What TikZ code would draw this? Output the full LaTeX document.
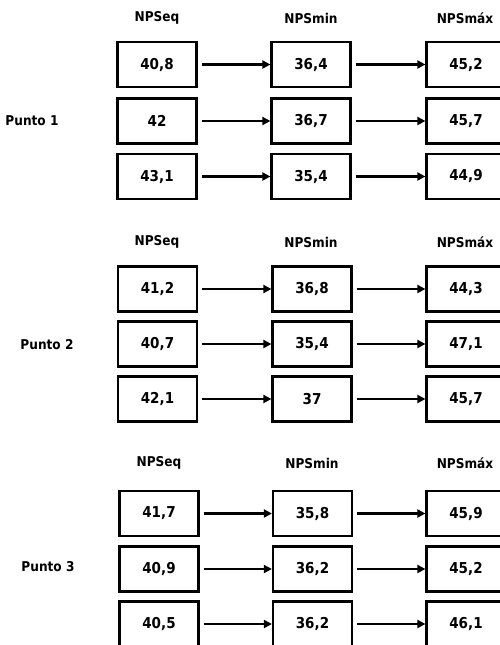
\documentclass[tikz,border=0pt]{standalone}
\usepackage{fontspec}
\setmainfont{DejaVu Sans Condensed}
\usetikzlibrary{arrows.meta}
\begin{document}
\begin{tikzpicture}[x=1pt,y=-1pt,
  valbox/.style={draw=black,line width=2.2pt,minimum width=79pt,minimum height=45pt,inner sep=0pt,font=\fontsize{15}{17}\selectfont\bfseries},
  hdr/.style={font=\fontsize{13.5}{15}\selectfont\bfseries,inner sep=0pt},
  punto/.style={font=\fontsize{13.5}{15}\selectfont\bfseries,inner sep=0pt},
  conn/.style={line width=2.3pt,-{Triangle[length=8pt,width=8pt]},shorten <=4pt}]
\useasboundingbox (0,0) rectangle (500,645);
\clip (0,0) rectangle (500,645);
% group 1
\node[hdr] (h1a) at (157,18) {NPSeq};
\node[hdr] (h1b) at (311,18) {NPSmin};
\node[hdr] (h1c) at (465,18) {NPSmáx};
\node[punto] (p1) at (32,121) {Punto 1};
\node[valbox] (a11) at (157,64.5) {40,8};
\node[valbox] (b11) at (311,64.5) {36,4};
\node[valbox] (c11) at (466,64.5) {45,2};
\node[valbox] (a12) at (157,121) {42};
\node[valbox] (b12) at (311,121) {36,7};
\node[valbox] (c12) at (466,121) {45,7};
\node[valbox] (a13) at (157,176.5) {43,1};
\node[valbox] (b13) at (311,176.5) {35,4};
\node[valbox] (c13) at (466,176.5) {44,9};
% group 2
\node[hdr] (h2a) at (157,242) {NPSeq};
\node[hdr] (h2b) at (311,242) {NPSmin};
\node[hdr] (h2c) at (465,242) {NPSmáx};
\node[punto] (p2) at (47,345) {Punto 2};
\node[valbox] (a21) at (157.5,289) {41,2};
\node[valbox] (b21) at (312,289) {36,8};
\node[valbox] (c21) at (466,289) {44,3};
\node[valbox] (a22) at (157.5,344) {40,7};
\node[valbox] (b22) at (312,344) {35,4};
\node[valbox] (c22) at (466,344) {47,1};
\node[valbox] (a23) at (157.5,399) {42,1};
\node[valbox] (b23) at (312,399) {37};
\node[valbox] (c23) at (466,399) {45,7};
% group 3
\node[hdr] (h3a) at (159,463) {NPSeq};
\node[hdr] (h3b) at (312,463) {NPSmin};
\node[hdr] (h3c) at (465,463) {NPSmáx};
\node[punto] (p3) at (48,567) {Punto 3};
\node[valbox] (a31) at (159,513.5) {41,7};
\node[valbox] (b31) at (312.5,513.5) {35,8};
\node[valbox] (c31) at (466,513.5) {45,9};
\node[valbox] (a32) at (159,569) {40,9};
\node[valbox] (b32) at (312.5,569) {36,2};
\node[valbox] (c32) at (466,569) {45,2};
\node[valbox] (a33) at (159,624) {40,5};
\node[valbox] (b33) at (312.5,624) {36,2};
\node[valbox] (c33) at (466,624) {46,1};
% connectors
\foreach \g in {1,2,3}{
  \foreach \r in {1,2,3}{
    \draw[conn] (a\g\r) -- (b\g\r);
    \draw[conn] (b\g\r) -- (c\g\r);
  }
}
\end{tikzpicture}
\end{document}
